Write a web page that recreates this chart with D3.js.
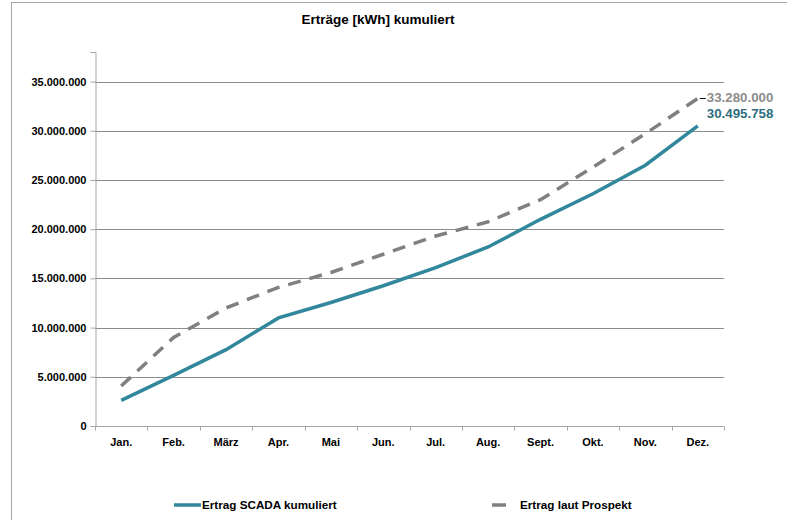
<!DOCTYPE html>
<html>
<head>
<meta charset="utf-8">
<script src="https://cdn.jsdelivr.net/npm/d3@7"></script>
<style>
  body { margin: 0; background: #fff; }
  svg { font-family: "Liberation Sans", Arial, sans-serif; font-weight: bold; }
</style>
</head>
<body>
<div id="svg-container"></div>
<script>
// data
const months = ["Jan.", "Feb.", "März", "Apr.", "Mai", "Jun.", "Jul.", "Aug.", "Sept.", "Okt.", "Nov.", "Dez."];
const scada = [2610000, 5150000, 7760000, 10980000, 12550000, 14250000, 16100000, 18190000, 21000000, 23600000, 26500000, 30495758];
const prospekt = [4070000, 9000000, 12000000, 14080000, 15600000, 17450000, 19300000, 20750000, 23000000, 26300000, 29700000, 33280000];
const yTicks = [0, 5000000, 10000000, 15000000, 20000000, 25000000, 30000000, 35000000];

const width = 787, height = 520;
const margin = { top: 52, right: 63, bottom: 94, left: 95 };

const svg = d3.select("#svg-container").append("svg")
  .attr("width", width).attr("height", height);

// outer frame
svg.append("rect")
  .attr("x", 11.5).attr("y", 2.5)
  .attr("width", width).attr("height", height)
  .attr("fill", "none").attr("stroke", "#a6a6a6");

// scales
const xScale = d3.scaleBand()
  .domain(months)
  .range([margin.left, width - margin.right]);

const yScale = d3.scaleLinear()
  .domain([0, 38000000])
  .range([height - margin.bottom, margin.top]);

const fmt = (d) => d3.format(",")(d).replace(/,/g, ".");

// gridlines
svg.append("g")
  .selectAll("line")
  .data(yTicks.filter((d) => d > 0))
  .join("line")
  .attr("x1", margin.left).attr("x2", width - margin.right)
  .attr("y1", (d) => Math.round(yScale(d)) + 0.5)
  .attr("y2", (d) => Math.round(yScale(d)) + 0.5)
  .attr("stroke", "#8c8c8c");

// y axis
const yAxis = d3.axisLeft(yScale).tickValues(yTicks).tickSize(5).tickPadding(4).tickFormat(fmt);
const gy = svg.append("g")
  .attr("transform", `translate(${margin.left + 0.5},0)`)
  .call(yAxis);
gy.select(".domain").attr("stroke", "#a6a6a6");
gy.selectAll(".tick line").attr("stroke", "#a6a6a6");
gy.selectAll(".tick text").attr("font-size", 11).attr("font-weight", "bold").attr("fill", "#000");

// x axis (ticks between categories)
const gx = svg.append("g")
  .attr("transform", `translate(0,${Math.round(yScale(0)) + 0.5})`);
gx.append("line")
  .attr("x1", margin.left).attr("x2", width - margin.right)
  .attr("stroke", "#a6a6a6");
gx.selectAll(".xtick")
  .data(months.concat(["end"]))
  .join("line")
  .attr("class", "xtick")
  .attr("x1", (d, i) => Math.round(margin.left + i * xScale.bandwidth()) + 0.5)
  .attr("x2", (d, i) => Math.round(margin.left + i * xScale.bandwidth()) + 0.5)
  .attr("y1", 0).attr("y2", 4)
  .attr("stroke", "#a6a6a6");
gx.selectAll(".xlabel")
  .data(months)
  .join("text")
  .attr("class", "xlabel")
  .attr("x", (d) => xScale(d) + xScale.bandwidth() / 2)
  .attr("y", 19)
  .attr("text-anchor", "middle")
  .attr("font-size", 11)
  .text((d) => d);

// lines
const line = d3.line()
  .x((d, i) => xScale(months[i]) + xScale.bandwidth() / 2)
  .y((d) => yScale(d));

svg.append("path")
  .datum(prospekt)
  .attr("d", line)
  .attr("fill", "none")
  .attr("stroke", "#808080")
  .attr("stroke-width", 3.5)
  .attr("stroke-dasharray", "13,9");

svg.append("path")
  .datum(scada)
  .attr("d", line)
  .attr("fill", "none")
  .attr("stroke", "#31879c")
  .attr("stroke-width", 3.5);

// end labels
const lastX = xScale(months[11]) + xScale.bandwidth() / 2;
svg.append("line")
  .attr("x1", lastX + 2).attr("x2", lastX + 8)
  .attr("y1", yScale(prospekt[11])).attr("y2", yScale(prospekt[11]))
  .attr("stroke", "#000").attr("stroke-width", 1);
svg.append("text")
  .attr("x", lastX + 9)
  .attr("y", yScale(prospekt[11]) + 4)
  .attr("font-size", 13.3)
  .attr("fill", "#8c8c8c")
  .text(fmt(prospekt[11]));
svg.append("text")
  .attr("x", lastX + 9)
  .attr("y", yScale(prospekt[11]) + 20)
  .attr("font-size", 13.3)
  .attr("fill", "#2e6e7e")
  .text(fmt(scada[11]));

// title
svg.append("text")
  .attr("x", 378)
  .attr("y", 24)
  .attr("text-anchor", "middle")
  .attr("font-size", 13.5)
  .text("Erträge [kWh] kumuliert");

// legend
const legend = svg.append("g").attr("transform", "translate(0,505)");
legend.append("line")
  .attr("x1", 174).attr("x2", 201)
  .attr("stroke", "#31879c").attr("stroke-width", 3.5);
legend.append("text")
  .attr("x", 202).attr("y", 4)
  .attr("font-size", 11.7)
  .text("Ertrag SCADA kumuliert");
legend.append("line")
  .attr("x1", 492).attr("x2", 506)
  .attr("stroke", "#808080").attr("stroke-width", 3.5);
legend.append("text")
  .attr("x", 520).attr("y", 4)
  .attr("font-size", 11.7)
  .text("Ertrag laut Prospekt");
</script>
</body>
</html>
